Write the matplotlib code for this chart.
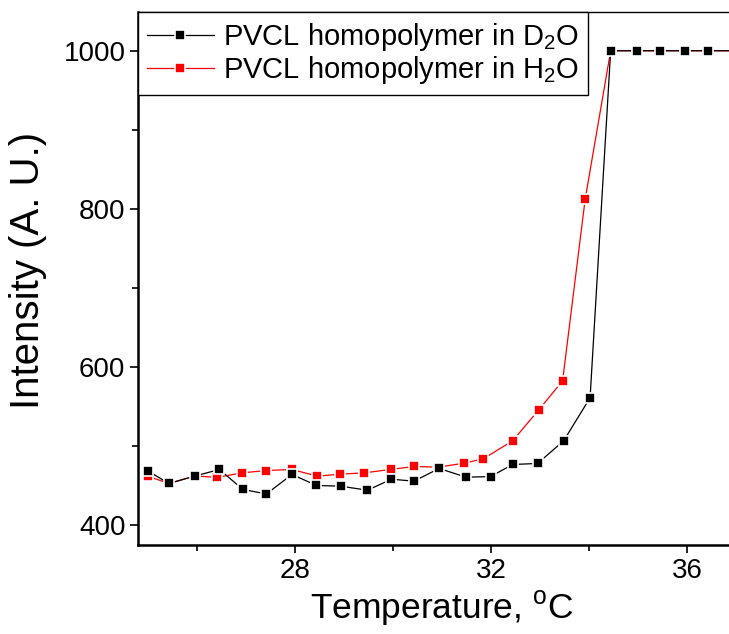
import matplotlib
matplotlib.use("Agg")
import matplotlib.pyplot as plt
from matplotlib.ticker import MultipleLocator

plt.rcParams["font.family"] = ["Liberation Sans", "DejaVu Sans"]
plt.rcParams["mathtext.fontset"] = "custom"
plt.rcParams["mathtext.rm"] = "Liberation Sans"
plt.rcParams["mathtext.it"] = "Liberation Sans:italic"

# temperatures (deg C) and intensities
temp_d2o = [25.0, 25.43, 25.97, 26.46, 26.94, 27.42, 27.94, 28.44, 28.93, 29.48,
            29.97, 30.43, 30.94, 31.49, 31.99, 32.44, 32.95, 33.48, 34.02, 34.44,
            34.97, 35.45, 35.96, 36.43, 37.0]
int_d2o = [468.7, 452.8, 462.4, 470.5, 445.2, 439.6, 464.2, 450.3, 449.4, 444.3,
           458.2, 455.7, 471.8, 460.8, 461.5, 476.8, 478.1, 506.7, 561.1, 1000,
           1000, 1000, 1000, 1000, 1000]

temp_h2o = [25.0, 25.43, 25.97, 26.41, 26.92, 27.42, 27.94, 28.46, 28.92, 29.41,
            29.95, 30.43, 30.92, 31.45, 31.84, 32.44, 32.97, 33.46, 33.92, 34.44,
            34.97, 35.45, 35.96, 36.43, 37.0]
int_h2o = [462.0, 452.8, 462.4, 460.4, 466.2, 469.2, 470.5, 462.0, 464.6, 466.2,
           470.5, 474.3, 473.4, 478.5, 483.9, 506.7, 545.6, 582.7, 812.3, 1000,
           1000, 1000, 1000, 1000, 1000]

labels = ["PVCL homopolymer in D$_\\mathrm{2}$O", "PVCL homopolymer in H$_\\mathrm{2}$O"]

fig = plt.figure(figsize=(7.29, 6.34), dpi=100)
# the frame runs on past the right edge of the picture
ax = fig.add_axes([138 / 729, 1 - 545 / 634, (746 - 138) / 729, (545 - 12) / 634])

l_h, = ax.plot(temp_h2o, int_h2o, color="red", lw=0.9, marker="s", ms=6.5,
               mfc="red", mec="white", mew=1.2, label=labels[1])
l_d, = ax.plot(temp_d2o, int_d2o, color="black", lw=0.9, marker="s", ms=6.5,
               mfc="black", mec="white", mew=1.2, label=labels[0])

ax.set_xlim(24.8, 37.2)
ax.set_ylim(375, 1049)
ax.set_xticks([28, 32, 36])
ax.xaxis.set_minor_locator(MultipleLocator(2))
ax.set_yticks([400, 600, 800, 1000])
ax.yaxis.set_minor_locator(MultipleLocator(100))

ax.spines["right"].set_visible(False)
ax.spines["left"].set_linewidth(1.8)
ax.spines["bottom"].set_linewidth(1.8)
ax.spines["top"].set_linewidth(1.0)

ax.tick_params(which="major", direction="out", length=6, width=1.2, pad=3)
ax.tick_params(which="minor", direction="out", length=4, width=1.2)
ax.tick_params(axis="both", labelsize=20)

ax.set_xlabel("Temperature, $^\\mathrm{o}$C", fontsize=25.5, labelpad=4)
ax.set_ylabel("Intensity (A. U.)", fontsize=29)
ax.yaxis.set_label_coords(-0.15, 0.516)

leg = ax.legend([l_d, l_h], labels, loc="upper left", bbox_to_anchor=(0, 1),
                borderaxespad=0, fontsize=21, frameon=True, fancybox=False,
                edgecolor="black", framealpha=1, handlelength=2.3,
                handletextpad=0.3, labelspacing=0.05, borderpad=0.3)
leg.get_frame().set_linewidth(1.0)

fig.savefig("out.png", dpi=100)
